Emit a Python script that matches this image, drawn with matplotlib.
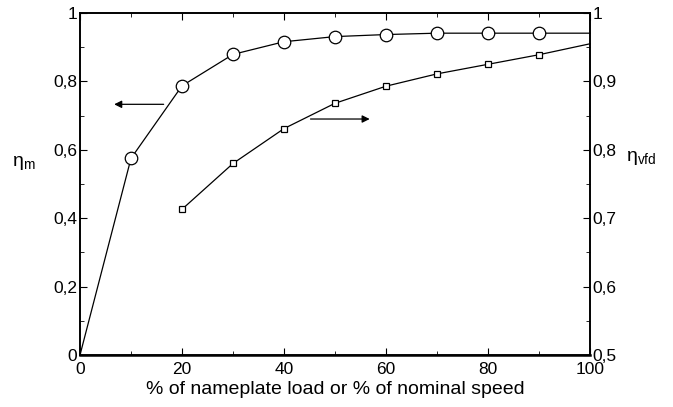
import numpy as np
import matplotlib
matplotlib.use("Agg")
import matplotlib.pyplot as plt
from matplotlib.ticker import MultipleLocator, FuncFormatter

plt.rcParams['font.family'] = ['Liberation Sans', 'DejaVu Sans']
plt.rcParams['mathtext.fontset'] = 'custom'
plt.rcParams['mathtext.rm'] = 'Liberation Sans'
plt.rcParams['mathtext.it'] = 'Liberation Sans'

# --- donnees ---
load_pct = [0, 10, 20, 30, 40, 50, 60, 70, 80, 90, 100]
eta_m = [0.0, 0.575, 0.787, 0.879, 0.916, 0.931, 0.937, 0.941, 0.941, 0.941, 0.941]

speed_pct = [20, 30, 40, 50, 60, 70, 80, 90, 100]
eta_vfd = [0.713, 0.780, 0.831, 0.868, 0.893, 0.911, 0.925, 0.939, 0.955]

xlabel = "% of nameplate load or % of nominal speed"


def comma(v, pos):
    s = f"{v:.2f}".rstrip("0").rstrip(".")
    return s.replace(".", ",")


fig = plt.figure(figsize=(6.73, 4.07), dpi=100)
ax = fig.add_axes([80 / 673, 52 / 407, 510 / 673, 342 / 407])
ax2 = ax.twinx()

# courbe moteur (axe gauche), marqueurs de 10 a 90
ax.plot(load_pct, eta_m, color='black', lw=0.9, marker='o', markersize=9,
        markerfacecolor='white', markeredgecolor='black', markeredgewidth=0.9,
        markevery=list(range(1, len(load_pct) - 1)), clip_on=False, zorder=3)

# courbe variateur (axe droit)
ax2.plot(speed_pct, eta_vfd, color='black', lw=0.9, marker='s', markersize=5,
         markerfacecolor='white', markeredgecolor='black', markeredgewidth=0.9,
         markevery=list(range(0, len(speed_pct) - 1)), clip_on=False, zorder=3)

ax.set_xlim(0, 100)
ax.set_ylim(0, 1)
ax2.set_ylim(0.5, 1)

ax.xaxis.set_major_locator(MultipleLocator(20))
ax.xaxis.set_minor_locator(MultipleLocator(10))
ax.yaxis.set_major_locator(MultipleLocator(0.2))
ax.yaxis.set_minor_locator(MultipleLocator(0.1))
ax2.yaxis.set_major_locator(MultipleLocator(0.1))
ax2.yaxis.set_minor_locator(MultipleLocator(0.05))
ax.yaxis.set_major_formatter(FuncFormatter(comma))
ax2.yaxis.set_major_formatter(FuncFormatter(comma))

ax.tick_params(axis='both', which='both', direction='in', labelsize=12.5)
ax.tick_params(axis='x', which='both', top=True, pad=5)
ax.tick_params(axis='y', pad=2)
ax.tick_params(which='major', length=5)
ax.tick_params(which='minor', length=3)
ax2.tick_params(axis='y', which='both', direction='in', labelsize=12.5, pad=2)
ax2.tick_params(which='major', length=5)
ax2.tick_params(which='minor', length=3)

for a in (ax, ax2):
    for sp in a.spines.values():
        sp.set_linewidth(1.2)
ax.spines['bottom'].set_linewidth(1.8)

ax.set_xlabel(xlabel, fontsize=14, labelpad=3)
ax.text(-0.11, 0.56, r'$\mathregular{\eta_m}$', transform=ax.transAxes,
        fontsize=14, ha='center', va='center')
ax.text(1.10, 0.575, r'$\mathregular{\eta_{vfd}}$', transform=ax.transAxes,
        fontsize=14, ha='center', va='center')

# fleches indiquant l'axe de chaque courbe
ax.annotate('', xy=(6.7, 0.733), xytext=(16.4, 0.733),
            arrowprops=dict(arrowstyle='-|>', color='black', lw=0.9,
                            mutation_scale=11, shrinkA=0, shrinkB=0))
ax.annotate('', xy=(56.8, 0.690), xytext=(45.2, 0.690),
            arrowprops=dict(arrowstyle='-|>', color='black', lw=0.9,
                            mutation_scale=11, shrinkA=0, shrinkB=0))

fig.savefig("out.png", dpi=100)
